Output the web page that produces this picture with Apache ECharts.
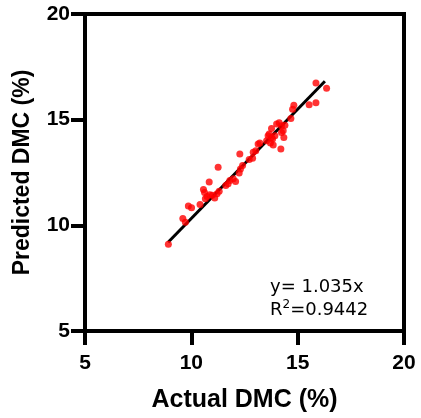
<!DOCTYPE html>
<html>
<head>
<meta charset="utf-8">
<script src="https://cdn.jsdelivr.net/npm/echarts@6/dist/echarts.min.js"></script>
<style>html,body{margin:0;padding:0;background:#fff;}#c{width:421px;height:418px;}</style>
</head>
<body>
<div id="c"></div>
<script>
var actual = [8.92, 9.60, 9.72, 9.86, 10.01, 10.41, 10.57, 10.62, 10.84, 10.66, 10.74, 10.87, 10.99, 11.10, 11.21, 11.31, 11.26, 11.62, 11.73, 11.81, 11.97, 12.08, 12.28, 12.25, 12.31, 12.41, 12.72, 12.88, 12.91, 13.03, 13.14, 13.22, 13.54, 13.61, 13.66, 13.77, 13.72, 13.85, 13.82, 13.93, 13.77, 14.01, 14.13, 14.24, 14.32, 14.21, 14.35, 14.24, 14.40, 14.68, 14.76, 14.82, 15.54, 15.86, 15.86, 16.36];
var predicted = [9.10, 10.32, 10.14, 10.92, 10.83, 10.98, 11.70, 11.55, 12.05, 11.26, 11.37, 11.45, 11.42, 11.29, 11.50, 11.61, 12.75, 11.89, 11.97, 12.12, 12.20, 12.08, 13.38, 12.48, 12.67, 12.83, 13.11, 13.17, 13.46, 13.53, 13.85, 13.89, 14.00, 14.24, 14.32, 14.16, 13.89, 13.80, 14.08, 14.24, 14.58, 14.79, 14.86, 14.71, 14.47, 13.61, 14.16, 14.39, 14.74, 15.05, 15.49, 15.68, 15.71, 15.80, 16.74, 16.49];
var fitX = [8.91, 16.28];
var fitY = [9.20, 16.82];
var ticks = [5, 10, 15, 20];
var xTitle = 'Actual DMC (%)';
var yTitle = 'Predicted DMC (%)';
var eqText = 'y= 1.035x';
var r2Value = '0.9442';

var pts = actual.map(function (v, i) { return [v, predicted[i]]; });
var fit = fitX.map(function (v, i) { return [v, fitY[i]]; });

var axisCommon = {
  type: 'value', min: ticks[0], max: ticks[ticks.length - 1], interval: 5,
  nameLocation: 'middle',
  nameTextStyle: { fontFamily: 'Liberation Sans', fontWeight: 'bold', color: '#000' },
  axisLine: { show: true, lineStyle: { color: '#000', width: 4 } },
  axisTick: { show: true, length: 14, lineStyle: { color: '#000', width: 4 } },
  axisLabel: { fontFamily: 'Liberation Sans', fontWeight: 'bold', fontSize: 21, color: '#000' },
  splitLine: { show: false }
};

var chart = echarts.init(document.getElementById('c'), null, { renderer: 'canvas' });
chart.setOption({
  animation: false,
  backgroundColor: '#fff',
  grid: { left: 85, right: 17, top: 14, bottom: 85, show: true, borderColor: '#000', borderWidth: 4 },
  xAxis: Object.assign({}, axisCommon, {
    name: xTitle, nameGap: 57,
    nameTextStyle: Object.assign({}, axisCommon.nameTextStyle, { fontSize: 25 }),
    axisLabel: Object.assign({}, axisCommon.axisLabel, { margin: 22 })
  }),
  yAxis: Object.assign({}, axisCommon, {
    name: yTitle, nameGap: 51,
    nameTextStyle: Object.assign({}, axisCommon.nameTextStyle, { fontSize: 23 }),
    axisLabel: Object.assign({}, axisCommon.axisLabel, { margin: 15 })
  }),
  graphic: [{
    type: 'text', left: 270, top: 278,
    style: { text: eqText, fontFamily: 'DejaVu Sans', fontSize: 18, fill: '#000' }
  }, {
    type: 'text', left: 270, top: 299,
    style: {
      text: '{a|R}{s|2}{a|=' + r2Value + '}',
      rich: {
        a: { fontFamily: 'DejaVu Sans', fontSize: 18, fill: '#000', lineHeight: 20, verticalAlign: 'bottom' },
        s: { fontFamily: 'DejaVu Sans', fontSize: 12, fill: '#000', lineHeight: 20, verticalAlign: 'top' }
      }
    }
  }],
  series: [{
    type: 'line', data: fit, symbol: 'none', silent: true,
    lineStyle: { color: '#000', width: 3 }, z: 2
  }, {
    type: 'scatter', data: pts, symbol: 'circle', symbolSize: 7,
    itemStyle: { color: '#ff0000' }, z: 3
  }]
});
</script>
</body>
</html>
